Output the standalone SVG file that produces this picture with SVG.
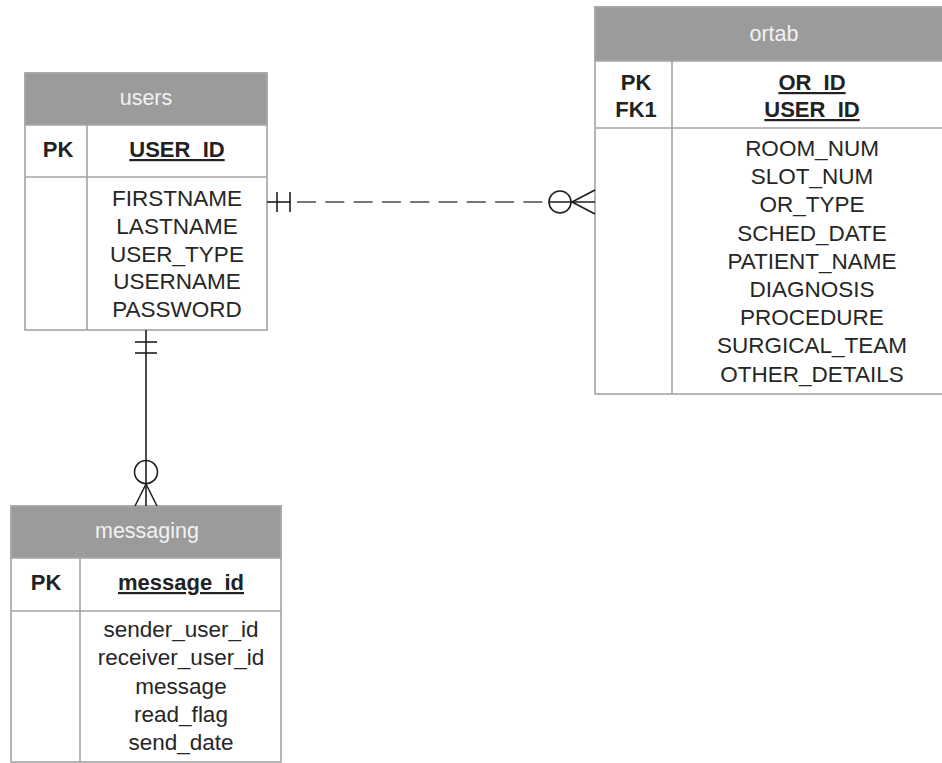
<svg xmlns="http://www.w3.org/2000/svg" width="942" height="763" viewBox="0 0 942 763">
<style>
  .box{fill:#ffffff;stroke:#a3a3a3;stroke-width:1.6}
  .hdr{fill:#9b9b9b;stroke:#a8a8a8;stroke-width:1.6}
  .sep{stroke:#a3a3a3;stroke-width:1.6;fill:none}
  .title{font-family:"Liberation Sans",Arial,sans-serif;font-size:21.5px;fill:#f2f2f2;text-anchor:middle}
  .key{font-family:"Liberation Sans",Arial,sans-serif;font-size:22px;font-weight:bold;fill:#222;text-anchor:middle}
  .pk{text-decoration:underline}
  .fld{font-family:"Liberation Sans",Arial,sans-serif;font-size:22.5px;fill:#262626;text-anchor:middle}
  .ln{stroke:#1e1e1e;stroke-width:1.6;fill:none}
  .dash{stroke:#4a4a4a;stroke-width:1.7;fill:none;stroke-dasharray:19 9.3}
</style>
<rect width="942" height="763" fill="#ffffff"/>

<g id="users">
  <rect class="box" x="25" y="73" width="242" height="257"/>
  <rect class="hdr" x="25" y="73" width="242" height="52"/>
  <line class="sep" x1="25" y1="177" x2="267" y2="177"/>
  <line class="sep" x1="87" y1="125" x2="87" y2="330"/>
  <text class="title" x="146" y="105">users</text>
  <text class="key" x="58" y="157">PK</text>
  <text class="key pk" x="177" y="157">USER_ID</text>
  <text class="fld" x="177" y="206">FIRSTNAME</text>
  <text class="fld" x="177" y="233.8">LASTNAME</text>
  <text class="fld" x="177" y="261.6">USER_TYPE</text>
  <text class="fld" x="177" y="289.4">USERNAME</text>
  <text class="fld" x="177" y="317.2">PASSWORD</text>
</g>

<g id="ortab">
  <rect class="box" x="595" y="7" width="358" height="387"/>
  <rect class="hdr" x="595" y="7" width="358" height="54"/>
  <line class="sep" x1="595" y1="128" x2="953" y2="128"/>
  <line class="sep" x1="672" y1="61" x2="672" y2="394"/>
  <text class="title" x="774" y="41">ortab</text>
  <text class="key" x="636" y="90">PK</text>
  <text class="key" x="636" y="117">FK1</text>
  <text class="key pk" x="812" y="90">OR_ID</text>
  <text class="key pk" x="812" y="117">USER_ID</text>
  <text class="fld" x="812" y="156">ROOM_NUM</text>
  <text class="fld" x="812" y="184.2">SLOT_NUM</text>
  <text class="fld" x="812" y="212.4">OR_TYPE</text>
  <text class="fld" x="812" y="240.6">SCHED_DATE</text>
  <text class="fld" x="812" y="268.8">PATIENT_NAME</text>
  <text class="fld" x="812" y="297">DIAGNOSIS</text>
  <text class="fld" x="812" y="325.2">PROCEDURE</text>
  <text class="fld" x="812" y="353.4">SURGICAL_TEAM</text>
  <text class="fld" x="812" y="381.6">OTHER_DETAILS</text>
</g>

<g id="messaging">
  <rect class="box" x="11" y="506" width="270" height="256"/>
  <rect class="hdr" x="11" y="506" width="270" height="52"/>
  <line class="sep" x1="11" y1="611" x2="281" y2="611"/>
  <line class="sep" x1="80" y1="558" x2="80" y2="762"/>
  <text class="title" x="147" y="538">messaging</text>
  <text class="key" x="46" y="590">PK</text>
  <text class="key pk" x="181" y="590">message_id</text>
  <text class="fld" x="181" y="637">sender_user_id</text>
  <text class="fld" x="181" y="665.3">receiver_user_id</text>
  <text class="fld" x="181" y="693.6">message</text>
  <text class="fld" x="181" y="721.9">read_flag</text>
  <text class="fld" x="181" y="750.2">send_date</text>
</g>

<g id="connectors">
  <line class="ln" x1="267" y1="202" x2="291" y2="202"/>
  <line class="ln" x1="277" y1="192" x2="277" y2="212"/>
  <line class="ln" x1="290" y1="192" x2="290" y2="212"/>
  <line class="dash" x1="297" y1="202" x2="549" y2="202"/>
  <line class="ln" x1="549" y1="202" x2="595" y2="202"/>
  <circle class="ln" cx="560" cy="202" r="11"/>
  <line class="ln" x1="572" y1="202" x2="595" y2="190"/>
  <line class="ln" x1="572" y1="202" x2="595" y2="214"/>
  <line class="ln" x1="146" y1="330" x2="146" y2="506"/>
  <line class="ln" x1="135" y1="342" x2="157" y2="342"/>
  <line class="ln" x1="135" y1="353" x2="157" y2="353"/>
  <circle class="ln" cx="146" cy="472" r="11.5"/>
  <line class="ln" x1="146" y1="484" x2="135" y2="506"/>
  <line class="ln" x1="146" y1="484" x2="157" y2="506"/>
</g>
</svg>
